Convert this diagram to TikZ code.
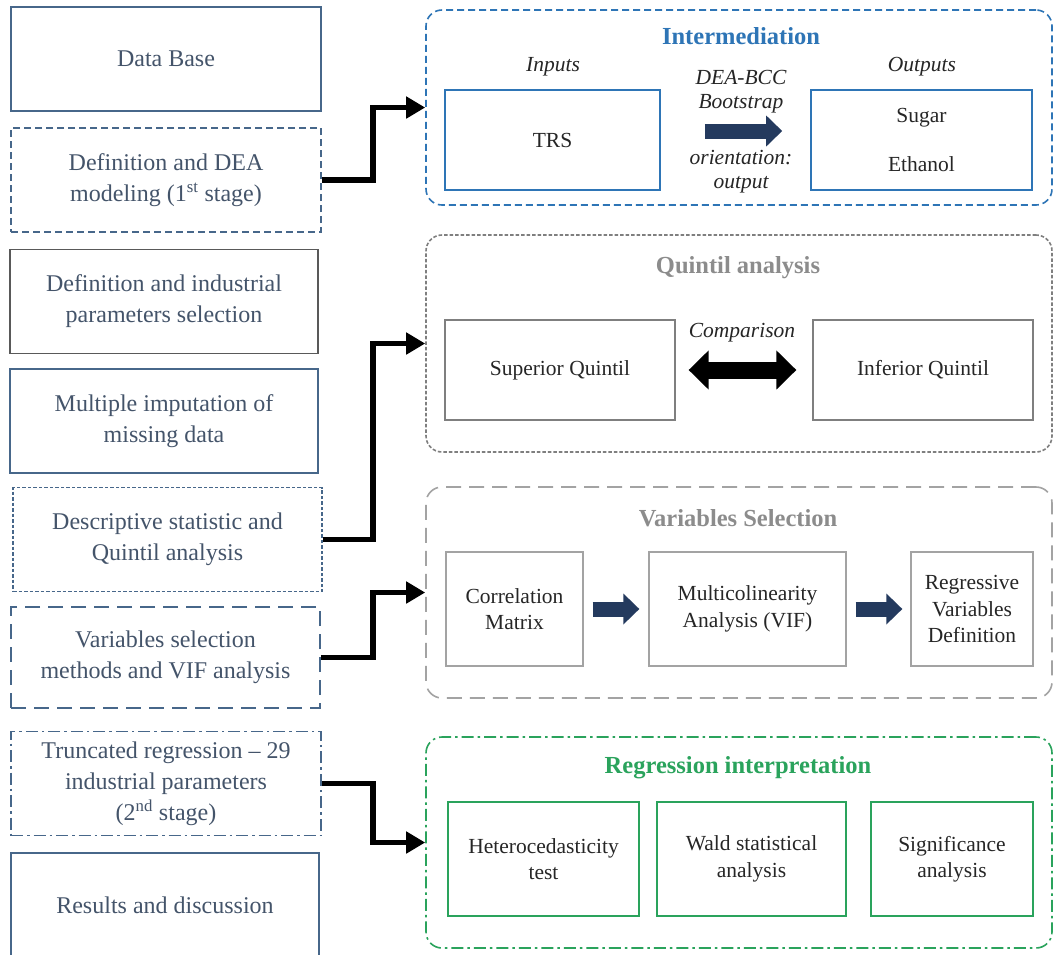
\documentclass[tikz,border=0pt]{standalone}
\usepackage{fontspec}
\setmainfont{Liberation Serif}
\usetikzlibrary{arrows.meta}

\definecolor{txtblue}{HTML}{44546A}
\definecolor{lineblue}{HTML}{47678A}
\definecolor{linegray}{HTML}{595959}
\definecolor{intblue}{HTML}{2E75B6}
\definecolor{qgray}{HTML}{7F7F7F}
\definecolor{vgray}{HTML}{A3A3A3}
\definecolor{titlegray}{HTML}{8C8C8C}
\definecolor{reggreen}{HTML}{2AA35C}
\definecolor{navy}{HTML}{243A5E}

\tikzset{
  shortdash/.style={dash pattern=on 7pt off 4pt},
  finedash/.style={dash pattern=on 3.5pt off 2pt},
  longdash/.style={dash pattern=on 15pt off 8pt},
  dashdotline/.style={dash pattern=on 12pt off 4pt on 2.5pt off 4pt},
  leftbox/.style={draw=#1, line width=1.5pt, minimum width=310pt, minimum height=104pt,
    align=center, text=txtblue, font=\fontsize{24}{31}\selectfont},
  panel/.style={draw=#1, line width=1.6pt, rounded corners=16pt, minimum width=626pt},
  paneltitle/.style={text=#1, font=\bfseries\fontsize{24.5}{30}\selectfont},
  innerbox/.style={draw=#1, line width=1.6pt, align=center, text=black!85,
    font=\fontsize{21.5}{26.5}\selectfont},
  lbl/.style={align=center, text=black!85, font=\itshape\fontsize{21.5}{24}\selectfont},
  blockarrow/.style={draw=navy, line width=15pt, -{Triangle[length=16pt,width=30pt]}},
  dblarrow/.style={draw=black, line width=17pt,
    {Triangle[length=20pt,width=38pt]}-{Triangle[length=20pt,width=38pt]}},
  link/.style={draw=black, line width=5.5pt, -{Triangle[length=19pt,width=21pt]}}
}

\begin{document}
\begin{tikzpicture}[x=1pt,y=-1pt]
  \clip (0,0) rectangle (1054,954);
  \fill[white] (0,0) rectangle (1054,954);

  % left column
  \node[leftbox=lineblue] (base) at (166,59) {Data Base};
  \node[leftbox=lineblue, shortdash] (dea) at (166,180) {Definition and DEA\\modeling (1\textsuperscript{st} stage)};
  \node[leftbox=linegray, minimum width=308pt] (indus) at (164,301.5) {Definition and industrial\\parameters selection};
  \node[leftbox=lineblue, minimum width=308pt] (imput) at (164,421) {Multiple imputation of\\missing data};
  \node[leftbox=lineblue, finedash, minimum width=309pt] (desc) at (167.5,539.5) {Descriptive statistic and\\Quintil analysis};
  \node[leftbox=lineblue, longdash, minimum width=309pt, minimum height=101pt] (varmeth) at (165.5,657.5) {Variables selection\\methods and VIF analysis};
  \node[leftbox=lineblue, dashdotline] (trunc) at (166,783.5) {Truncated regression -- 29\\industrial parameters\\(2\textsuperscript{nd} stage)};
  \node[leftbox=lineblue, minimum width=308pt] (results) at (165,905) {Results and discussion};

  % intermediation
  \node[panel=intblue, shortdash, minimum height=195pt] (intpanel) at (739,107.5) {};
  \node[paneltitle=intblue] (inttitle) at (741,36) {Intermediation};
  \node[innerbox=intblue, minimum width=215pt, minimum height=100pt] (trs) at (552.5,140) {TRS};
  \node[innerbox=intblue, minimum width=221pt, minimum height=100pt] (outbox) at (921.5,140) {Sugar\\[23pt]Ethanol};
  \node[lbl] (inputs) at (553,67) {Inputs};
  \node[lbl] (outputs) at (922,67) {Outputs};
  \node[lbl] (method) at (741,92) {DEA-BCC\\Bootstrap};
  \node[lbl] (orient) at (741,172) {orientation:\\output};
  \draw[blockarrow, shorten <=44pt, shorten >=28pt] ([yshift=9pt]trs.east) -- ([yshift=9pt]outbox.west);

  % quintil analysis
  \node[panel=qgray, finedash, minimum height=217pt] (qpanel) at (739,343.5) {};
  \node[paneltitle=titlegray] (qtitle) at (738,268) {Quintil analysis};
  \node[innerbox=qgray, line width=1.3pt, minimum width=230pt, minimum height=100pt] (sup) at (560,370) {Superior Quintil};
  \node[innerbox=qgray, line width=1.3pt, minimum width=220pt, minimum height=100pt] (inf) at (923,370) {Inferior Quintil};
  \node[lbl] (compare) at (742,333) {Comparison};
  \draw[dblarrow, shorten <=13pt, shorten >=16pt] (sup.east) -- (inf.west);

  % variables selection
  \node[panel=vgray, longdash, minimum height=211pt] (vpanel) at (739,592.5) {};
  \node[paneltitle=titlegray] (vtitle) at (738,518) {Variables Selection};
  \node[innerbox=vgray, line width=1.3pt, minimum width=137pt, minimum height=114pt] (corr) at (514.5,609) {Correlation\\Matrix};
  \node[innerbox=vgray, line width=1.3pt, minimum width=197pt, minimum height=114pt] (multi) at (747.5,609) {Multicolinearity\\Analysis (VIF)};
  \node[innerbox=vgray, line width=1.3pt, minimum width=122pt, minimum height=114pt] (regr) at (972,609) {Regressive\\Variables\\Definition};
  \draw[blockarrow, shorten <=9pt, shorten >=9pt] (corr.east) -- (multi.west);
  \draw[blockarrow, shorten <=9pt, shorten >=8pt] (multi.east) -- (regr.west);

  % regression interpretation
  \node[panel=reggreen, dashdotline, minimum height=211pt] (rpanel) at (739,842.5) {};
  \node[paneltitle=reggreen] (rtitle) at (738,768) {Regression interpretation};
  \node[innerbox=reggreen, minimum width=191pt, minimum height=114pt] (hetero) at (543.5,859) {Heterocedasticity\\test};
  \node[innerbox=reggreen, minimum width=189pt, minimum height=114pt] (wald) at (751.5,859) {Wald statistical\\analysis};
  \node[innerbox=reggreen, minimum width=162pt, minimum height=114pt] (signif) at (952,859) {Significance\\analysis};

  % connectors
  \coordinate (elbow) at (373,0);
  \draw[link] (dea.east) -- (dea.east -| elbow) |- (intpanel.west);
  \draw[link] (desc.east) -- (desc.east -| elbow) |- (qpanel.west);
  \draw[link] (varmeth.east) -- (varmeth.east -| elbow) |- (vpanel.west);
  \draw[link] (trunc.east) -- (trunc.east -| elbow) |- (rpanel.west);
\end{tikzpicture}
\end{document}
